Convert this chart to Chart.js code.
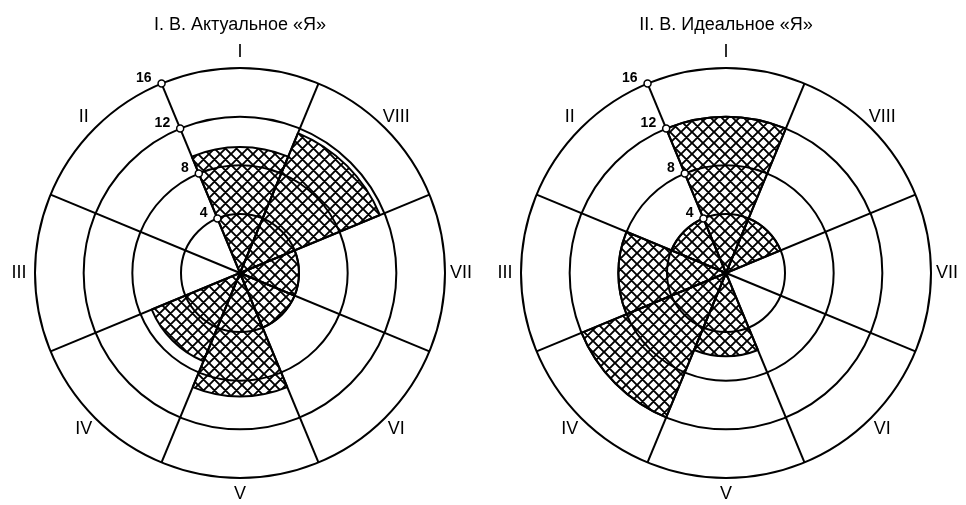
<!DOCTYPE html>
<html lang="ru">
<head>
<meta charset="utf-8">
<title>Актуальное и идеальное «Я»</title>
<script src="https://cdn.jsdelivr.net/npm/chart.js@4.4.1/dist/chart.umd.min.js"></script>
<style>
  body { margin: 0; background: #fff; }
  .charts { display: flex; width: 966px; height: 505px; }
  canvas { display: block; }
</style>
</head>
<body>
<div class="charts">
  <canvas id="actual" width="483" height="505"></canvas>
  <canvas id="ideal" width="483" height="505"></canvas>
</div>
<script>
// Октанты (I сверху, далее против часовой стрелки)
const octants = ['I', 'II', 'III', 'IV', 'V', 'VI', 'VII', 'VIII'];
const actualValues = [9.5, 0, 0, 7, 9.3, 4, 4, 11.6];
const idealValues = [12, 4, 8, 12, 6, 0, 0, 4];
const tickValues = [4, 8, 12, 16];
const titles = ['I. В. Актуальное «Я»', 'II. В. Идеальное «Я»'];

// Chart.js рисует по часовой стрелке, поэтому переставляем
const order = [0, 7, 6, 5, 4, 3, 2, 1];

const FONT = '"Liberation Sans", Arial, sans-serif';

// штриховка сеткой
function makeHatch(ctx) {
    const size = 11;
    const tile = document.createElement('canvas');
    tile.width = size;
    tile.height = size;
    const g = tile.getContext('2d');
    g.strokeStyle = '#000';
    g.lineWidth = 1.9;
    g.beginPath();
    for (const k of [-size, 0, size]) {
        g.moveTo(k - 1, -1);
        g.lineTo(k + size + 1, size + 1);
        g.moveTo(k - 1, size + 1);
        g.lineTo(k + size + 1, -1);
    }
    g.stroke();
    return ctx.createPattern(tile, 'repeat');
}

// подписи октантов и отметки шкалы
const decor = {
    id: 'decor',
    afterDatasetsDraw(chart) {
        const scale = chart.scales.r;
        const ctx = chart.ctx;
        const half = Math.PI / chart.data.labels.length;
        ctx.save();
        ctx.fillStyle = '#000';
        ctx.font = '18px ' + FONT;
        ctx.textAlign = 'center';
        ctx.textBaseline = 'middle';
        chart.data.labels.forEach((lbl, i) => {
            const p = scale.getPointPosition(i, scale.drawingArea + 16, half);
            ctx.fillText(lbl, p.x, p.y);
        });

        ctx.font = 'bold 14px ' + FONT;
        ctx.textAlign = 'right';
        tickValues.forEach(v => {
            const p = scale.getPointPositionForValue(0, v);
            ctx.beginPath();
            ctx.arc(p.x, p.y, 3.5, 0, Math.PI * 2);
            ctx.fillStyle = '#fff';
            ctx.fill();
            ctx.lineWidth = 1.5;
            ctx.strokeStyle = '#000';
            ctx.stroke();
            ctx.fillStyle = '#000';
            ctx.fillText(String(v), p.x - 10, p.y - 5);
        });
        ctx.restore();
    }
};

function drawChart(id, values, title, pad) {
    const canvas = document.getElementById(id);
    const hatch = makeHatch(canvas.getContext('2d'));
    return new Chart(canvas, {
        type: 'polarArea',
        data: {
            labels: order.map(i => octants[i]),
            datasets: [{
                data: order.map(i => values[i] || null),
                backgroundColor: hatch,
                borderColor: '#000',
                borderWidth: 2
            }]
        },
        options: {
            responsive: false,
            animation: false,
            events: [],
            layout: { padding: pad },
            plugins: {
                legend: { display: false },
                tooltip: { enabled: false },
                title: {
                    display: true,
                    text: title,
                    color: '#000',
                    font: { family: FONT, size: 18, weight: 'normal' },
                    padding: { top: 14, bottom: 33 }
                }
            },
            scales: {
                r: {
                    min: -0.85,
                    max: 16,
                    startAngle: -22.5,
                    afterBuildTicks: s => { s.ticks = tickValues.map(v => ({ value: v })); },
                    ticks: { display: false },
                    grid: { color: '#000', lineWidth: 2 },
                    angleLines: { display: true, color: '#000', lineWidth: 2 },
                    pointLabels: { display: false }
                }
            }
        },
        plugins: [decor]
    });
}

drawChart('actual', actualValues, titles[0], { top: 0, bottom: 26, left: 20, right: 23 });
drawChart('ideal', idealValues, titles[1], { top: 0, bottom: 26, left: 23, right: 20 });
</script>
</body>
</html>
